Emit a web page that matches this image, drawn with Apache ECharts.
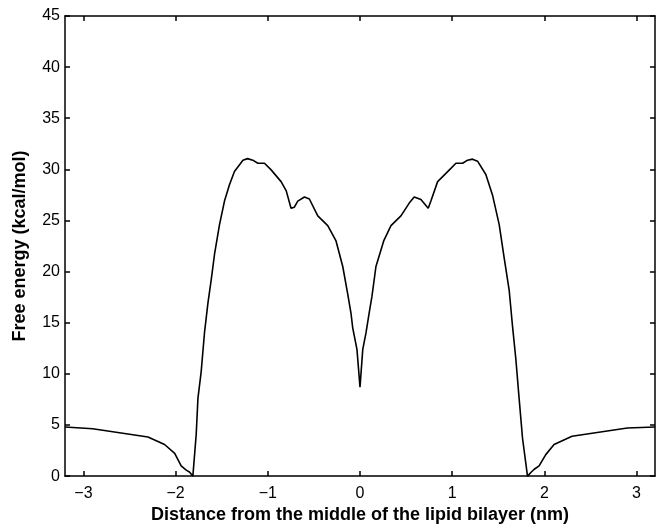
<!DOCTYPE html>
<html>
<head>
<meta charset="utf-8">
<script src="https://cdn.jsdelivr.net/npm/echarts@6/dist/echarts.min.js"></script>
<style>
html,body{margin:0;padding:0;background:#fff;}
#c{width:656px;height:529px;}
</style>
</head>
<body>
<div id="c"></div>
<script>
// Distance from the middle of the lipid bilayer (nm)
var distance = [-3.2, -2.9, -2.3, -2.12, -2.01, -1.94, -1.885, -1.85, -1.813,
  -1.777, -1.758, -1.723, -1.687, -1.65, -1.614, -1.578, -1.524, -1.47, -1.416, -1.362,
  -1.27, -1.22, -1.163, -1.108, -1.036, -0.964, -0.856, -0.80, -0.748, -0.712, -0.675,
  -0.603, -0.549, -0.458, -0.35, -0.26, -0.187, -0.133, -0.098, -0.079, -0.033, 0.0,
  0.03, 0.065, 0.1, 0.13, 0.173, 0.257, 0.336, 0.444, 0.534, 0.588, 0.661, 0.74, 0.769,
  0.842, 0.986, 1.04, 1.113, 1.167, 1.221, 1.275, 1.365, 1.437, 1.51, 1.563, 1.618,
  1.654, 1.69, 1.726, 1.763, 1.817, 1.853, 1.89, 1.943, 2.015, 2.105, 2.30, 2.90, 3.2];
// Free energy (kcal/mol)
var energy = [4.8, 4.63, 3.83, 3.09, 2.22, 1.0, 0.58, 0.4, 0.0,
  4.05, 7.6, 10.2, 14.0, 16.9, 19.2, 21.7, 24.6, 26.9, 28.5, 29.8,
  30.9, 31.05, 30.9, 30.6, 30.6, 29.95, 28.8, 27.9, 26.2, 26.3, 26.9,
  27.3, 27.1, 25.45, 24.5, 23.0, 20.5, 17.8, 15.95, 14.5, 12.4, 8.7,
  12.4, 14.0, 16.0, 17.6, 20.5, 23.0, 24.5, 25.45, 26.7, 27.3, 27.05, 26.2, 26.9,
  28.8, 30.1, 30.6, 30.6, 30.9, 31.0, 30.8, 29.5, 27.5, 24.6, 21.4, 18.2,
  14.7, 11.5, 7.6, 3.7, 0.0, 0.35, 0.67, 1.0, 2.1, 3.09, 3.89, 4.7, 4.8];
var xTicks = [-3, -2, -1, 0, 1, 2, 3];
var yTicks = [0, 5, 10, 15, 20, 25, 30, 35, 40, 45];
var xTitle = 'Distance from the middle of the lipid bilayer (nm)';
var yTitle = 'Free energy (kcal/mol)';

var pts = distance.map(function (d, i) { return [d, energy[i]]; });
var font = '"Liberation Sans", Arial, Helvetica, sans-serif';
var lineStyle = { color: '#000', width: 1.5 };
function fmt(v) { return v < 0 ? '\u2212' + Math.abs(v) : String(v); }

var chart = echarts.init(document.getElementById('c'), null, { renderer: 'canvas' });
chart.setOption({
  animation: false,
  backgroundColor: '#fff',
  grid: { left: 65, right: 1, top: 16, bottom: 47, containLabel: false },
  xAxis: [{
    type: 'value', min: -3.2, max: 3.2, position: 'bottom',
    name: xTitle, nameLocation: 'middle', nameGap: 25,
    nameTextStyle: { fontFamily: font, fontSize: 18, fontWeight: 'bold', color: '#000' },
    axisLine: { show: true, onZero: false, lineStyle: lineStyle },
    axisTick: { show: true, inside: true, length: 5, lineStyle: lineStyle, customValues: xTicks },
    axisLabel: { show: true, margin: 9, fontFamily: font, fontSize: 16, color: '#000',
      customValues: xTicks, formatter: fmt },
    splitLine: { show: false }
  }, {
    type: 'value', min: -3.2, max: 3.2, position: 'top',
    axisLine: { show: true, onZero: false, lineStyle: lineStyle },
    axisTick: { show: true, inside: true, length: 5, lineStyle: lineStyle, customValues: xTicks },
    axisLabel: { show: false },
    splitLine: { show: false }
  }],
  yAxis: [{
    type: 'value', min: 0, max: 45, interval: 5, position: 'left',
    name: yTitle, nameLocation: 'middle', nameGap: 36, nameRotate: 90,
    nameTextStyle: { fontFamily: font, fontSize: 18, fontWeight: 'bold', color: '#000' },
    axisLine: { show: true, onZero: false, lineStyle: lineStyle },
    axisTick: { show: true, inside: true, length: 5, lineStyle: lineStyle },
    axisLabel: { show: true, margin: 5, fontFamily: font, fontSize: 16, color: '#000',
      customValues: yTicks },
    splitLine: { show: false }
  }, {
    type: 'value', min: 0, max: 45, interval: 5, position: 'right',
    axisLine: { show: true, onZero: false, lineStyle: lineStyle },
    axisTick: { show: true, inside: true, length: 5, lineStyle: lineStyle },
    axisLabel: { show: false },
    splitLine: { show: false }
  }],
  series: [{
    type: 'line', xAxisIndex: 0, yAxisIndex: 0,
    data: pts, showSymbol: false, symbol: 'none',
    lineStyle: { color: '#000', width: 1.6 },
    clip: true
  }]
});
</script>
</body>
</html>
